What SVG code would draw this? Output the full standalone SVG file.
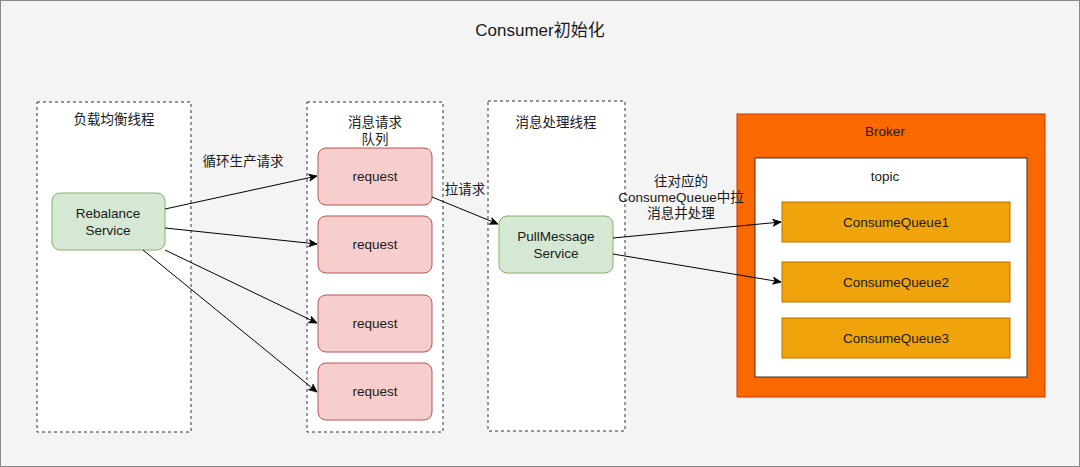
<svg xmlns="http://www.w3.org/2000/svg" width="1080" height="467" viewBox="0 0 1080 467">
<defs>
<marker id="arr" markerWidth="10" markerHeight="10" refX="9" refY="5" orient="auto" markerUnits="userSpaceOnUse">
<path d="M1,1.5 L9,5 L1,8.5 L3,5 Z" fill="#000" stroke="#000" stroke-width="0.8"/>
</marker>
</defs>
<style>
text{font-family:"Helvetica","Liberation Sans","Noto Sans CJK SC",sans-serif;font-size:13.5px;fill:#1a1a1a;text-anchor:middle;dominant-baseline:central}
.lane{fill:#fff;stroke:#333;stroke-width:1;stroke-dasharray:3 3}
.green{fill:#d5e8d4;stroke:#82b366;stroke-width:1}
.red{fill:#f8cecc;stroke:#b85450;stroke-width:1}
.cq{fill:#f0a30a;stroke:#bd7000;stroke-width:1}
.conn{fill:none;stroke:#000;stroke-width:1;marker-end:url(#arr)}
</style>
<rect x="0.5" y="0.5" width="1079" height="466" fill="#f4f4f4" stroke="#8a8a8a" stroke-width="1"/>
<text x="540" y="30" style="font-size:17px">Consumer初始化</text>

<g id="lane-rebalance">
<rect class="lane" x="37" y="102" width="154" height="330"/>
<text x="114" y="119">负载均衡线程</text>
</g>
<g id="lane-queue">
<rect class="lane" x="307" y="102" width="136" height="330"/>
<text x="375" y="122">消息请求</text>
<text x="375" y="139">队列</text>
</g>
<g id="lane-pull">
<rect class="lane" x="488" y="101" width="137" height="330"/>
<text x="556" y="122">消息处理线程</text>
</g>

<g id="rebalance">
<rect class="green" x="52" y="193" width="113" height="57" rx="8"/>
<text x="108" y="213">Rebalance</text>
<text x="108" y="230">Service</text>
</g>
<g id="req1"><rect class="red" x="318" y="148" width="114" height="57" rx="8"/><text x="375" y="176.5">request</text></g>
<g id="req2"><rect class="red" x="318" y="216" width="114" height="57" rx="8"/><text x="375" y="244.5">request</text></g>
<g id="req3"><rect class="red" x="318" y="295" width="114" height="57" rx="8"/><text x="375" y="323.5">request</text></g>
<g id="req4"><rect class="red" x="318" y="363" width="114" height="57" rx="8"/><text x="375" y="391.5">request</text></g>

<g id="pull">
<rect class="green" x="499" y="216" width="114" height="57" rx="8"/>
<text x="556" y="236">PullMessage</text>
<text x="556" y="253">Service</text>
</g>

<g id="broker">
<rect x="737" y="114" width="308" height="283" fill="#fa6800" stroke="#c73500" stroke-width="1"/>
<text x="885" y="131">Broker</text>
</g>
<g id="topic">
<rect x="755" y="158" width="272" height="219" fill="#fff" stroke="#333" stroke-width="1"/>
<text x="885" y="176">topic</text>
</g>
<g id="cq1"><rect class="cq" x="782" y="202" width="228" height="40"/><text x="896" y="222">ConsumeQueue1</text></g>
<g id="cq2"><rect class="cq" x="782" y="262" width="228" height="40"/><text x="896" y="282">ConsumeQueue2</text></g>
<g id="cq3"><rect class="cq" x="782" y="318" width="228" height="40"/><text x="896" y="338">ConsumeQueue3</text></g>

<g id="connectors">
<line class="conn" x1="165" y1="209" x2="317" y2="176"/>
<line class="conn" x1="165" y1="228" x2="317" y2="244"/>
<line class="conn" x1="165" y1="250" x2="317" y2="323"/>
<line class="conn" x1="143" y1="250" x2="317" y2="392"/>
<line class="conn" x1="432" y1="197" x2="498" y2="224"/>
<line class="conn" x1="613" y1="238" x2="781" y2="222"/>
<line class="conn" x1="613" y1="254" x2="781" y2="282"/>
<text x="243" y="161">循环生产请求</text>
<text x="465" y="189">拉请求</text>
<text x="681" y="181">往对应的</text>
<text x="681" y="197">ConsumeQueue中拉</text>
<text x="681" y="213">消息并处理</text>
</g>
</svg>
